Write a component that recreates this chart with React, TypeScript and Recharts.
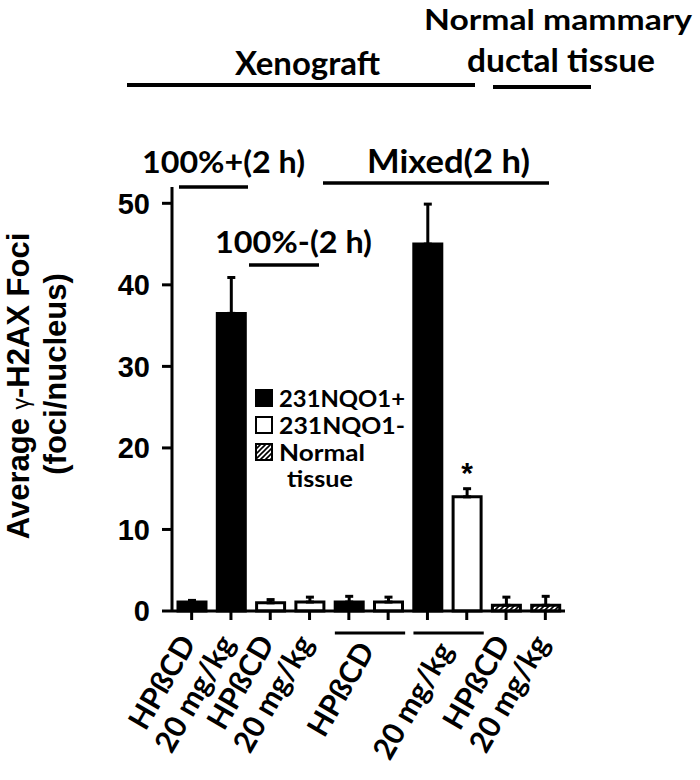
import React from 'react';
import { BarChart, Bar, XAxis, YAxis, ErrorBar, Cell, LabelList } from 'recharts';

// ---- data ----
const categories = ['c1', 'c2', 'c3', 'c4', 'c5', 'c6', 'c7', 'c8', 'c9', 'c10'];
const tickLabels = ['HPßCD', '20 mg/kg', 'HPßCD', '20 mg/kg', 'HPßCD', '', '20 mg/kg', '', 'HPßCD', '20 mg/kg'];
// 1 = label under this bar, 2 = label centred under this bar and the next, 0 = no label
const labelSpans = [1, 1, 1, 1, 2, 0, 2, 0, 1, 1];
const groups = ['pos', 'pos', 'neg', 'neg', 'pos', 'neg', 'pos', 'neg', 'normal', 'normal'];
const values = [1.1, 36.5, 1.0, 1.1, 1.1, 1.1, 45.0, 14.0, 0.7, 0.7];
const errors = [0.2, 4.4, 0.4, 0.6, 0.7, 0.6, 4.9, 1.0, 1.0, 1.1];
const marks = ['', '', '', '', '', '', '', '*', '', ''];
const yTicks = [0, 10, 20, 30, 40, 50];
const legendKinds = ['pos', 'neg', 'normal'];
const legendLabels = [['231NQO1+'], ['231NQO1-'], ['Normal', 'tissue']];

const data = categories.map((id, i) => ({
  id,
  value: values[i],
  err: [0, errors[i]],
  group: groups[i],
  mark: marks[i],
}));

// ---- layout ----
const W = 700;
const H = 780;
const M = { top: 187, right: 135, bottom: 9, left: 112 };
const Y_AXIS_W = 60;
const X_AXIS_H = 160;
const PLOT_LEFT = M.left + Y_AXIS_W;
const PLOT_RIGHT = W - M.right;
const AXIS_Y = H - M.bottom - X_AXIS_H;
const BAND = (PLOT_RIGHT - PLOT_LEFT) / categories.length;

const fillOf: Record<string, string> = { pos: '#000', neg: '#fff', normal: 'url(#hatch)' };
const CAL = 'Lato, "Open Sans", sans-serif';
const ARIAL = '"Liberation Sans", Arial, sans-serif';
const legendTextLen = [[126], [126], [86, 66]];

const renderXTick = (props: any) => {
  const { x, payload } = props;
  const i = categories.indexOf(payload.value);
  const span = labelSpans[i];
  if (!span) return <g />;
  const shift = span === 2 ? BAND / 2 + 7 : 5;
  const ay = span === 2 ? AXIS_Y + 39 : AXIS_Y + 32;
  return (
    <g>
      {span === 2 && (
        <line x1={x - 14} x2={x + BAND + 17} y1={AXIS_Y + 22} y2={AXIS_Y + 22} stroke="#000" strokeWidth={3} />
      )}
      <text
        transform={`translate(${x + shift},${ay}) rotate(-60)`}
        textAnchor="end"
        fontFamily={CAL}
        fontWeight="bold"
        fontSize={30}
        fill="#000"
      >
        {tickLabels[i]}
      </text>
    </g>
  );
};

const renderMark = (props: any) => {
  const { x, y, width, index } = props;
  const m = marks[index];
  if (!m) return null;
  return (
    <text x={x + width / 2} y={y - 14} textAnchor="middle" fontFamily={ARIAL} fontWeight="bold" fontSize={30} fill="#000">
      {m}
    </text>
  );
};

const Annotations = () => {
  const sq = 17;
  const rowsY = [390, 417, 444];
  return (
    <svg width={W} height={H} style={{ position: 'absolute', left: 0, top: 0, pointerEvents: 'none' }}>
      <defs>
        <pattern id="hatchL" patternUnits="userSpaceOnUse" width="5" height="5">
          <path d="M0,5 L5,0 M-1.25,1.25 L1.25,-1.25 M3.75,6.25 L6.25,3.75" stroke="#000" strokeWidth={1.6} />
        </pattern>
      </defs>
      {/* top group annotations */}
      <g fontFamily={CAL} fontWeight="bold" fill="#000">
        <text x={424} y={30} fontSize={29} textLength={268} lengthAdjust="spacingAndGlyphs">Normal mammary</text>
        <text x={467} y={72} fontSize={32} textLength={188} lengthAdjust="spacingAndGlyphs">ductal tissue</text>
        <text x={235} y={75} fontSize={32} textLength={145} lengthAdjust="spacingAndGlyphs">Xenograft</text>
        <text x={142} y={173} fontSize={31} textLength={163} lengthAdjust="spacingAndGlyphs">100%+(2 h)</text>
        <text x={367} y={173} fontSize={32} textLength={163} lengthAdjust="spacingAndGlyphs">Mixed(2 h)</text>
        <text x={215} y={253} fontSize={31} textLength={157} lengthAdjust="spacingAndGlyphs">100%-(2 h)</text>
      </g>
      <g stroke="#000" strokeWidth={4}>
        <line x1={127} x2={475} y1={85} y2={85} />
        <line x1={493} x2={591} y1={87} y2={87} />
      </g>
      <g stroke="#000" strokeWidth={3.5}>
        <line x1={179} x2={248} y1={187} y2={187} />
        <line x1={323} x2={549} y1={183} y2={183} />
        <line x1={249} x2={319} y1={265} y2={265} />
      </g>
      {/* y axis title */}
      <g fontFamily={ARIAL} fontWeight="bold" fill="#000" fontSize={31}>
        <text transform="translate(29,386) rotate(-90)" textAnchor="middle">
          Average <tspan fontWeight="normal" fontSize={23}>γ</tspan>-H2AX Foci
        </text>
        <text transform="translate(66,374) rotate(-90)" textAnchor="middle">(foci/nucleus)</text>
      </g>
      {/* legend */}
      <g>
        {legendKinds.map((k, i) => (
          <g key={k}>
            <rect
              x={256}
              y={rowsY[i]}
              width={sq - 1}
              height={sq - 1}
              fill={k === 'normal' ? 'url(#hatchL)' : fillOf[k]}
              stroke="#000"
              strokeWidth={2}
            />
            {legendLabels[i].map((t, j) => (
              <text
                key={t}
                x={j === 0 ? 279 : 287}
                y={j === 0 ? rowsY[i] + 17 : rowsY[i] + 43}
                fontFamily={CAL}
                fontWeight="bold"
                fontSize={22}
                fill="#000"
                textLength={legendTextLen[i][j]}
                lengthAdjust="spacingAndGlyphs"
              >
                {t}
              </text>
            ))}
          </g>
        ))}
      </g>
    </svg>
  );
};

export default function App() {
  return (
    <div style={{ position: 'absolute', left: 0, top: 0, width: W, height: H, background: '#fff' }}>
      <BarChart width={W} height={H} data={data} margin={M} barSize={28}>
        <defs>
          <pattern id="hatch" patternUnits="userSpaceOnUse" width="5" height="5">
            <path d="M0,5 L5,0 M-1.25,1.25 L1.25,-1.25 M3.75,6.25 L6.25,3.75" stroke="#000" strokeWidth={1.6} />
          </pattern>
        </defs>
        <XAxis
          dataKey="id"
          interval={0}
          height={X_AXIS_H}
          tickSize={9}
          tick={renderXTick}
          axisLine={{ stroke: '#000', strokeWidth: 3 }}
          tickLine={{ stroke: '#000', strokeWidth: 3 }}
        />
        <YAxis
          domain={[0, 52]}
          ticks={yTicks}
          width={Y_AXIS_W}
          tickSize={10}
          tickMargin={12}
          axisLine={{ stroke: '#000', strokeWidth: 3 }}
          tickLine={{ stroke: '#000', strokeWidth: 3 }}
          tick={{ fill: '#000', fontSize: 29, fontWeight: 'bold', fontFamily: ARIAL }}
        />
        <Bar dataKey="value" stroke="#000" strokeWidth={3} isAnimationActive={false}>
          {data.map((d) => (
            <Cell key={d.id} fill={fillOf[d.group]} />
          ))}
          <ErrorBar dataKey="err" width={4} stroke="#000" strokeWidth={3} direction="y" />
          <LabelList dataKey="mark" content={renderMark} />
        </Bar>
      </BarChart>
      <Annotations />
    </div>
  );
}
